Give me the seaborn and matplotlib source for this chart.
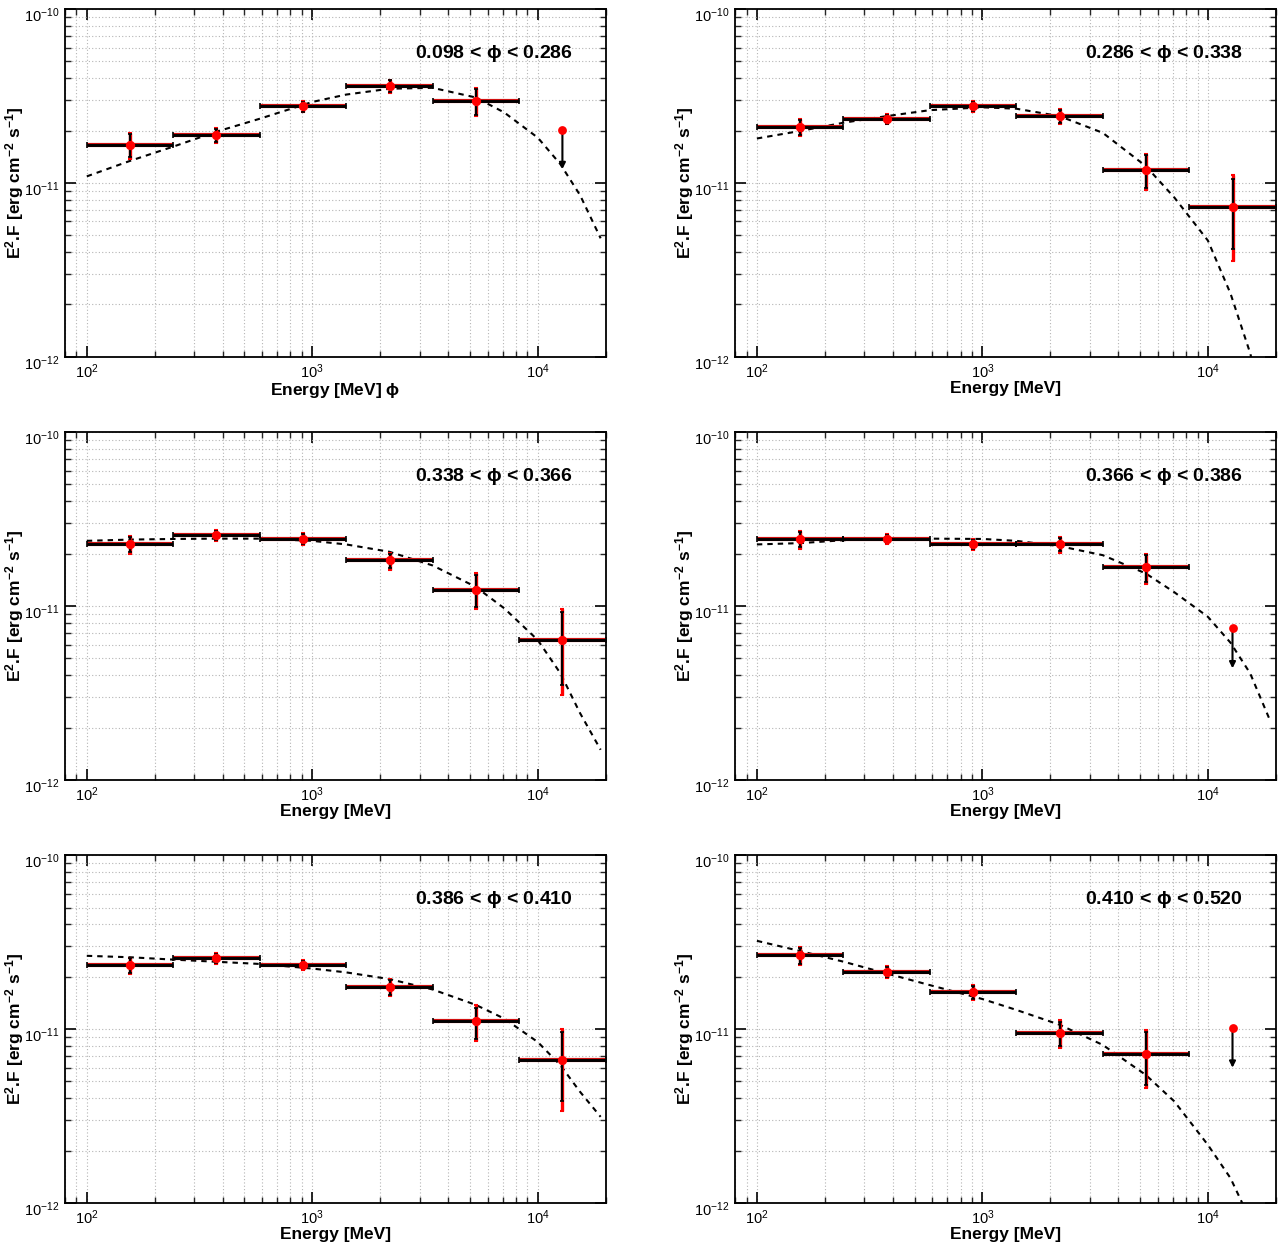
import numpy as np
import pandas as pd
import matplotlib
matplotlib.use("Agg")
import matplotlib.pyplot as plt
import matplotlib.transforms as mtransforms
import seaborn as sns
from matplotlib.ticker import LogLocator, FixedLocator, NullFormatter

# Energy binning (MeV) and bin centres
energy_edges = [100, 242, 585, 1414, 3420, 8270, 20000]
energy_centers = [156, 376, 910, 2200, 5320, 12860]

# Model curve (energies in MeV, values in 1e-11 erg cm-2 s-1)
curve_energy = [100, 156, 243, 376, 586, 1000, 1414, 2200, 3420, 5300, 7100, 10000, 12600, 15400, 19000]
curve_1 = [1.09, 1.34, 1.62, 1.97, 2.34, 2.92, 3.22, 3.48, 3.52, 3.10, 2.54, 1.82, 1.28, 0.85, 0.48]
curve_2 = [1.80, 1.99, 2.22, 2.42, 2.62, 2.72, 2.67, 2.42, 1.94, 1.25, 0.824, 0.466, 0.231, 0.105, 0.035]
curve_3 = [2.37, 2.41, 2.43, 2.44, 2.44, 2.37, 2.26, 2.05, 1.71, 1.29, 0.97, 0.637, 0.41, 0.242, 0.149]
curve_4 = [2.26, 2.30, 2.39, 2.44, 2.44, 2.43, 2.37, 2.21, 1.96, 1.54, 1.20, 0.867, 0.615, 0.41, 0.215]
curve_5 = [2.64, 2.59, 2.51, 2.44, 2.37, 2.23, 2.12, 1.94, 1.69, 1.38, 1.15, 0.843, 0.62, 0.436, 0.313]
curve_6 = [3.22, 2.81, 2.44, 2.09, 1.79, 1.49, 1.29, 1.06, 0.811, 0.546, 0.384, 0.216, 0.139, 0.08, 0.04]

# Phase bin labels
phase_labels = [r"0.098 < $\phi$ < 0.286", r"0.286 < $\phi$ < 0.338", r"0.338 < $\phi$ < 0.366",
                r"0.366 < $\phi$ < 0.386", r"0.386 < $\phi$ < 0.410", r"0.410 < $\phi$ < 0.520"]
xlabels = [r"Energy [MeV] $\phi$", "Energy [MeV]", "Energy [MeV]",
           "Energy [MeV]", "Energy [MeV]", "Energy [MeV]"]

# Major tick positions
xticks = [1e2, 1e3, 1e4]
yticks = [1e-12, 1e-11, 1e-10]

# Flux points (1e-11 erg cm-2 s-1): value, total error bounds, statistical error bounds
flux_1 = [1.66, 1.88, 2.75, 3.60, 2.97]
tot_hi_1 = [1.94, 2.07, 2.97, 3.93, 3.52]
tot_lo_1 = [1.38, 1.70, 2.54, 3.28, 2.42]
stat_hi_1 = [1.91, 2.04, 2.93, 3.88, 3.47]
stat_lo_1 = [1.41, 1.72, 2.57, 3.32, 2.47]

flux_2 = [2.09, 2.32, 2.75, 2.43, 1.19, 0.73]
tot_hi_2 = [2.34, 2.49, 2.95, 2.67, 1.47, 1.11]
tot_lo_2 = [1.86, 2.17, 2.56, 2.19, 0.908, 0.357]
stat_hi_2 = [2.30, 2.46, 2.92, 2.63, 1.44, 1.05]
stat_lo_2 = [1.89, 2.19, 2.59, 2.22, 0.94, 0.417]

flux_3 = [2.26, 2.55, 2.44, 1.83, 1.24, 0.637]
tot_hi_3 = [2.52, 2.73, 2.63, 2.02, 1.54, 0.964]
tot_lo_3 = [2.00, 2.37, 2.25, 1.62, 0.955, 0.309]
stat_hi_3 = [2.48, 2.70, 2.60, 1.99, 1.50, 0.928]
stat_lo_3 = [2.04, 2.40, 2.28, 1.66, 0.99, 0.35]

flux_4 = [2.44, 2.42, 2.26, 2.26, 1.68]
tot_hi_4 = [2.70, 2.58, 2.42, 2.50, 2.00]
tot_lo_4 = [2.14, 2.26, 2.09, 2.02, 1.33]
stat_hi_4 = [2.66, 2.55, 2.39, 2.46, 1.96]
stat_lo_4 = [2.18, 2.29, 2.12, 2.06, 1.37]

flux_5 = [2.34, 2.55, 2.33, 1.75, 1.11, 0.667]
tot_hi_5 = [2.58, 2.74, 2.50, 1.94, 1.37, 1.00]
tot_lo_5 = [2.07, 2.36, 2.18, 1.55, 0.849, 0.34]
stat_hi_5 = [2.55, 2.71, 2.47, 1.91, 1.33, 0.96]
stat_lo_5 = [2.10, 2.39, 2.21, 1.58, 0.88, 0.384]

flux_6 = [2.67, 2.14, 1.64, 0.946, 0.718]
tot_hi_6 = [2.98, 2.32, 1.79, 1.13, 0.984]
tot_lo_6 = [2.33, 1.97, 1.47, 0.777, 0.461]
stat_hi_6 = [2.93, 2.29, 1.76, 1.10, 0.96]
stat_lo_6 = [2.37, 2.00, 1.50, 0.80, 0.48]

# Upper limits in the last energy bin (value, arrow tip), None where there is a detection
ul_1 = [2.02, 1.20]
ul_2 = None
ul_3 = None
ul_4 = [0.75, 0.438]
ul_5 = None
ul_6 = [1.01, 0.60]

panels = [
    (flux_1, tot_lo_1, tot_hi_1, stat_lo_1, stat_hi_1, ul_1, curve_1),
    (flux_2, tot_lo_2, tot_hi_2, stat_lo_2, stat_hi_2, ul_2, curve_2),
    (flux_3, tot_lo_3, tot_hi_3, stat_lo_3, stat_hi_3, ul_3, curve_3),
    (flux_4, tot_lo_4, tot_hi_4, stat_lo_4, stat_hi_4, ul_4, curve_4),
    (flux_5, tot_lo_5, tot_hi_5, stat_lo_5, stat_hi_5, ul_5, curve_5),
    (flux_6, tot_lo_6, tot_hi_6, stat_lo_6, stat_hi_6, ul_6, curve_6),
]

sns.set_style("ticks")
plt.rcParams['font.family'] = ['Liberation Sans', 'DejaVu Sans']
plt.rcParams['mathtext.default'] = 'regular'
plt.rcParams['text.color'] = 'black'
plt.rcParams['axes.labelcolor'] = 'black'

fig = plt.figure(figsize=(12.81, 12.5), dpi=100)

# Axes geometry (figure fractions)
col_left = [0.0507, 0.5738]
row_bottom = [0.7146, 0.3761, 0.0376]
ax_w, ax_h = 0.4221, 0.2782

# y tick labels sit a few pixels below their tick, like the ROOT original
ylab_shift = mtransforms.ScaledTranslation(0, -5 / 100, fig.dpi_scale_trans)

scale = 1e-11
for i, (flux, tlo, thi, slo, shi, ul, curve) in enumerate(panels):
    ax = fig.add_axes([col_left[i % 2], row_bottom[i // 2], ax_w, ax_h])
    ax.set_xscale("log")
    ax.set_yscale("log")
    ax.set_xlim(80, 2e4)
    ax.set_ylim(1e-12, 1e-10)

    # dotted grid on major and minor ticks
    ax.grid(True, which="both", linestyle=(0, (1, 2)), color="#b5b5b5", linewidth=0.8)
    ax.set_axisbelow(True)

    n = len(flux)
    e = np.array(energy_centers[:n])
    lo_edge = np.array(energy_edges[:n])
    hi_edge = np.array(energy_edges[1:n + 1])
    f = np.array(flux) * scale
    xerr = [e - lo_edge, hi_edge - e]
    tot_err = [f - np.array(tlo) * scale, np.array(thi) * scale - f]
    stat_err = [f - np.array(slo) * scale, np.array(shi) * scale - f]

    # model curve
    df_curve = pd.DataFrame({"E": curve_energy, "F": np.array(curve) * scale})
    sns.lineplot(data=df_curve, x="E", y="F", ax=ax, color="black", linewidth=1.5,
                 linestyle=(0, (2.6, 2.4)), zorder=2)

    # energy bins: thin red underlay + black bar
    ax.errorbar(e, f, xerr=xerr, fmt="none", ecolor="#d01010", elinewidth=3.0, capsize=0, zorder=3)
    ax.errorbar(e, f, xerr=xerr, fmt="none", ecolor="black", elinewidth=2.1, capsize=2.2,
                capthick=1.2, zorder=4)
    # total (red) and statistical (black) flux errors
    ax.errorbar(e, f, yerr=tot_err, fmt="none", ecolor="red", elinewidth=2.4, capsize=1.5,
                capthick=1.5, zorder=3)
    ax.errorbar(e, f, yerr=stat_err, fmt="none", ecolor="black", elinewidth=1.6, capsize=1.5,
                capthick=1.2, zorder=4)

    df_pts = pd.DataFrame({"E": e, "F": f})
    sns.scatterplot(data=df_pts, x="E", y="F", ax=ax, color="red", s=45, edgecolor="red",
                    linewidth=0, zorder=6)

    if ul is not None:
        x_ul = energy_centers[-1]
        ax.annotate("", xy=(x_ul, ul[1] * scale), xytext=(x_ul, ul[0] * scale),
                    arrowprops=dict(arrowstyle="-|>", color="black", lw=1.5,
                                    mutation_scale=9, shrinkA=0, shrinkB=0), zorder=5)
        ax.scatter([x_ul], [ul[0] * scale], color="red", s=40, linewidths=0, zorder=6)

    # ROOT-like ticks on all sides
    ax.xaxis.set_major_locator(FixedLocator(xticks))
    ax.xaxis.set_minor_locator(LogLocator(base=10, subs=np.arange(2, 10), numticks=20))
    ax.yaxis.set_major_locator(FixedLocator(yticks))
    ax.yaxis.set_minor_locator(LogLocator(base=10, subs=np.arange(2, 10), numticks=20))
    ax.xaxis.set_minor_formatter(NullFormatter())
    ax.yaxis.set_minor_formatter(NullFormatter())
    ax.tick_params(which="major", direction="in", length=8, width=1.2, top=True, right=True,
                   labelsize=10.5, colors="black", pad=4)
    ax.tick_params(which="minor", direction="in", length=4, width=1.0, top=True, right=True)
    for s in ax.spines.values():
        s.set_linewidth(1.3)
        s.set_color("black")
    for lab in ax.get_yticklabels():
        lab.set_transform(lab.get_transform() + ylab_shift)

    ax.set_xlabel(xlabels[i], fontsize=12.5, fontweight="bold", labelpad=0)
    ax.set_ylabel(r"E$^{2}$.F [erg cm$^{-2}$ s$^{-1}$]", fontsize=12.5, fontweight="bold",
                  va="center")
    ax.yaxis.set_label_coords(-0.094, 0.5)
    ax.text(0.94, 0.873, phase_labels[i], transform=ax.transAxes, ha="right", va="center",
            fontsize=14, fontweight="bold")

fig.savefig("out.png", dpi=100)
